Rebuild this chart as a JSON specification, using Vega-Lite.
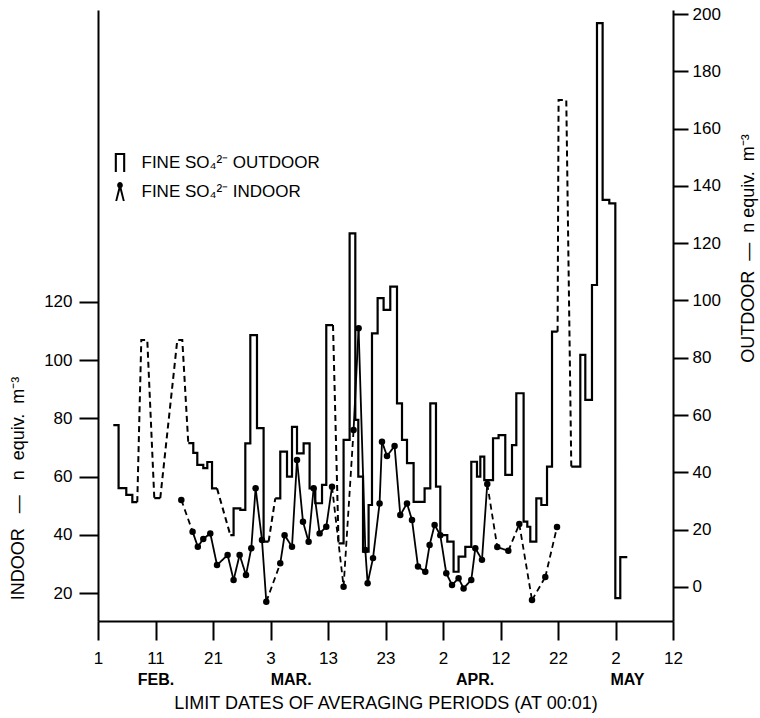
{
  "$schema": "https://vega.github.io/schema/vega-lite/v6.json",
  "autosize": {"type": "none"},
  "width": 575,
  "height": 611,
  "padding": {"left": 98, "top": 10, "right": 87, "bottom": 97},
  "background": "white",
  "config": {
    "view": {"stroke": null},
    "font": "Liberation Sans",
    "axis": {
      "domainColor": "black", "tickColor": "black", "labelColor": "black", "titleColor": "black",
      "grid": false, "domainWidth": 2, "tickWidth": 2,
      "labelFont": "Liberation Sans", "titleFont": "Liberation Sans",
      "labelFontSize": 17, "titleFontSize": 18, "titleFontWeight": "normal"
    }
  },
  "datasets": {
    "outSteps": [
      {"seg": "s1", "t": 2.66, "v": 56.5}, {"seg": "s1", "t": 3.58, "v": 34.5}, {"seg": "s1", "t": 4.92, "v": 32.1}, {"seg": "s1", "t": 5.97, "v": 29.6}, {"seg": "s1", "t": 6.83, "v": 29.6},
      {"seg": "s2", "t": 9.79, "v": 31.0}, {"seg": "s2", "t": 10.83, "v": 31.0},
      {"seg": "s3", "t": 15.70, "v": 50.2}, {"seg": "s3", "t": 16.57, "v": 46.8}, {"seg": "s3", "t": 17.27, "v": 42.6}, {"seg": "s3", "t": 18.31, "v": 41.5}, {"seg": "s3", "t": 19.01, "v": 43.6}, {"seg": "s3", "t": 19.83, "v": 34.4}, {"seg": "s3", "t": 20.70, "v": 34.4},
      {"seg": "s4", "t": 23.01, "v": 18.1}, {"seg": "s4", "t": 23.58, "v": 27.4}, {"seg": "s4", "t": 24.75, "v": 26.9}, {"seg": "s4", "t": 25.62, "v": 50.1}, {"seg": "s4", "t": 26.49, "v": 87.9}, {"seg": "s4", "t": 27.65, "v": 55.4}, {"seg": "s4", "t": 28.80, "v": 15.8}, {"seg": "s4", "t": 29.67, "v": 15.8},
      {"seg": "s5", "t": 30.83, "v": 30.9}, {"seg": "s5", "t": 31.70, "v": 47.2}, {"seg": "s5", "t": 32.87, "v": 38.5}, {"seg": "s5", "t": 33.74, "v": 55.9}, {"seg": "s5", "t": 34.61, "v": 46.6}, {"seg": "s5", "t": 35.76, "v": 50.1}, {"seg": "s5", "t": 36.80, "v": 34.4}, {"seg": "s5", "t": 37.79, "v": 29.2}, {"seg": "s5", "t": 38.96, "v": 35.6}, {"seg": "s5", "t": 39.70, "v": 91.4}, {"seg": "s5", "t": 40.87, "v": 91.4},
      {"seg": "s6", "t": 41.84, "v": 15.2}, {"seg": "s6", "t": 42.71, "v": 51.3}, {"seg": "s6", "t": 43.76, "v": 123.4}, {"seg": "s6", "t": 44.75, "v": 58.3}, {"seg": "s6", "t": 45.27, "v": 38.5}, {"seg": "s6", "t": 46.09, "v": 12.3}, {"seg": "s6", "t": 47.06, "v": 28.6}, {"seg": "s6", "t": 47.65, "v": 88.5}, {"seg": "s6", "t": 48.63, "v": 100.8}, {"seg": "s6", "t": 49.67, "v": 96.7}, {"seg": "s6", "t": 50.83, "v": 104.8}, {"seg": "s6", "t": 52.0, "v": 64.1}, {"seg": "s6", "t": 52.87, "v": 51.3}, {"seg": "s6", "t": 53.74, "v": 43.2}, {"seg": "s6", "t": 54.89, "v": 29.7}, {"seg": "s6", "t": 56.80, "v": 34.4}, {"seg": "s6", "t": 57.79, "v": 64.1}, {"seg": "s6", "t": 58.78, "v": 35.0}, {"seg": "s6", "t": 59.53, "v": 18.1}, {"seg": "s6", "t": 60.75, "v": 15.8}, {"seg": "s6", "t": 61.84, "v": 5.3}, {"seg": "s6", "t": 62.71, "v": 10.6}, {"seg": "s6", "t": 63.88, "v": 14.0}, {"seg": "s6", "t": 64.92, "v": 43.7}, {"seg": "s6", "t": 65.91, "v": 38.5}, {"seg": "s6", "t": 66.49, "v": 45.5}, {"seg": "s6", "t": 67.18, "v": 37.3}, {"seg": "s6", "t": 68.70, "v": 51.9}, {"seg": "s6", "t": 69.67, "v": 53.0}, {"seg": "s6", "t": 70.83, "v": 39.1}, {"seg": "s6", "t": 72.0, "v": 49.5}, {"seg": "s6", "t": 72.75, "v": 67.6}, {"seg": "s6", "t": 74.02, "v": 22.8}, {"seg": "s6", "t": 74.66, "v": 21.0}, {"seg": "s6", "t": 75.18, "v": 15.8}, {"seg": "s6", "t": 76.23, "v": 30.9}, {"seg": "s6", "t": 77.10, "v": 28.6}, {"seg": "s6", "t": 78.09, "v": 42.0}, {"seg": "s6", "t": 78.96, "v": 89.1}, {"seg": "s6", "t": 79.93, "v": 89.1},
      {"seg": "s7", "t": 82.31, "v": 42.0}, {"seg": "s7", "t": 83.88, "v": 81.0}, {"seg": "s7", "t": 84.75, "v": 65.3}, {"seg": "s7", "t": 85.91, "v": 105.4}, {"seg": "s7", "t": 86.78, "v": 196.8}, {"seg": "s7", "t": 87.76, "v": 135.1}, {"seg": "s7", "t": 88.92, "v": 133.9}, {"seg": "s7", "t": 89.97, "v": -3.9}, {"seg": "s7", "t": 90.83, "v": 10.4}, {"seg": "s7", "t": 92.05, "v": 10.4}
    ],
    "outGaps": [
      {"seg": "d1", "t": 6.83, "v": 29.6}, {"seg": "d1", "t": 7.53, "v": 86.2}, {"seg": "d1", "t": 8.57, "v": 86.2}, {"seg": "d1", "t": 9.79, "v": 31.0},
      {"seg": "d2", "t": 10.83, "v": 31.0}, {"seg": "d2", "t": 13.79, "v": 86.2}, {"seg": "d2", "t": 14.66, "v": 86.2}, {"seg": "d2", "t": 15.70, "v": 50.2},
      {"seg": "d3", "t": 20.70, "v": 34.4}, {"seg": "d3", "t": 23.01, "v": 18.1},
      {"seg": "d4", "t": 29.67, "v": 15.8}, {"seg": "d4", "t": 30.83, "v": 30.9},
      {"seg": "d5", "t": 40.87, "v": 91.4}, {"seg": "d5", "t": 41.84, "v": 15.2},
      {"seg": "d6", "t": 79.93, "v": 89.1}, {"seg": "d6", "t": 80.10, "v": 170.0}, {"seg": "d6", "t": 81.44, "v": 170.0}, {"seg": "d6", "t": 82.31, "v": 42.0}
    ],
    "indoor": [
      {"t": 14.49, "v": 52.0, "link": "dashed"}, {"t": 16.45, "v": 41.1, "link": "solid"}, {"t": 17.36, "v": 35.9, "link": "solid"}, {"t": 18.31, "v": 38.6, "link": "solid"}, {"t": 19.53, "v": 40.5, "link": "solid"},
      {"t": 20.70, "v": 29.6, "link": "solid"}, {"t": 22.54, "v": 33.1, "link": "solid"}, {"t": 23.58, "v": 24.5, "link": "solid"}, {"t": 24.63, "v": 33.1, "link": "solid"}, {"t": 25.74, "v": 26.2, "link": "solid"},
      {"t": 26.66, "v": 35.4, "link": "solid"}, {"t": 27.41, "v": 56.0, "link": "solid"}, {"t": 28.52, "v": 38.2, "link": "solid"}, {"t": 29.27, "v": 17.0, "link": "dashed"}, {"t": 31.70, "v": 30.2, "link": "solid"},
      {"t": 32.45, "v": 39.9, "link": "solid"}, {"t": 33.74, "v": 35.9, "link": "solid"}, {"t": 34.61, "v": 65.7, "link": "solid"}, {"t": 35.65, "v": 44.5, "link": "solid"}, {"t": 36.63, "v": 37.6, "link": "solid"},
      {"t": 37.50, "v": 56.0, "link": "solid"}, {"t": 38.54, "v": 40.5, "link": "solid"}, {"t": 39.70, "v": 42.8, "link": "solid"}, {"t": 40.70, "v": 56.5, "link": "dashed"}, {"t": 42.71, "v": 22.2, "link": "dashed"},
      {"t": 44.45, "v": 76.0, "link": "solid"}, {"t": 45.32, "v": 111.0, "link": "solid"}, {"t": 46.49, "v": 34.8, "link": "solid"}, {"t": 46.89, "v": 23.4, "link": "solid"}, {"t": 47.83, "v": 32.0, "link": "solid"},
      {"t": 48.97, "v": 50.8, "link": "solid"}, {"t": 49.39, "v": 72.0, "link": "solid"}, {"t": 50.26, "v": 67.1, "link": "solid"}, {"t": 51.58, "v": 70.5, "link": "solid"}, {"t": 52.57, "v": 46.8, "link": "solid"},
      {"t": 53.74, "v": 50.8, "link": "solid"}, {"t": 54.61, "v": 45.1, "link": "solid"}, {"t": 55.65, "v": 29.1, "link": "solid"}, {"t": 56.92, "v": 27.3, "link": "solid"}, {"t": 57.67, "v": 36.5, "link": "solid"},
      {"t": 58.54, "v": 43.4, "link": "solid"}, {"t": 59.53, "v": 39.9, "link": "solid"}, {"t": 60.57, "v": 26.8, "link": "solid"}, {"t": 61.57, "v": 22.8, "link": "solid"}, {"t": 62.71, "v": 25.1, "link": "solid"},
      {"t": 63.58, "v": 21.6, "link": "solid"}, {"t": 64.92, "v": 24.5, "link": "solid"}, {"t": 65.62, "v": 35.4, "link": "solid"}, {"t": 66.78, "v": 31.4, "link": "solid"}, {"t": 67.70, "v": 57.5, "link": "dashed"},
      {"t": 69.44, "v": 35.8, "link": "solid"}, {"t": 71.36, "v": 34.5, "link": "dashed"}, {"t": 73.27, "v": 43.7, "link": "dashed"}, {"t": 75.48, "v": 17.6, "link": "dashed"}, {"t": 77.79, "v": 25.5, "link": "dashed"},
      {"t": 79.83, "v": 42.7, "link": "none"}
    ],
    "legendRows": [
      {"lab": "FINE SO₄²⁻ OUTDOOR"},
      {"lab": "FINE SO₄²⁻ INDOOR"}
    ]
  },
  "resolve": {"scale": {"y": "independent"}, "axis": {"x": "independent", "y": "independent"}},
  "layer": [
    {
      "layer": [
        {
          "data": {"name": "outSteps"},
          "mark": {"type": "line", "interpolate": "step-after", "color": "black", "strokeWidth": 2.2},
          "encoding": {
            "x": {"field": "t", "type": "quantitative", "scale": {"domain": [0, 100], "nice": false, "zero": false},
              "axis": {"orient": "bottom", "values": [0, 10, 20, 30, 40, 50, 60, 70, 80, 90, 100],
                "labelExpr": "['1','11','21','3','13','23','2','12','22','2','12'][round(datum.value/10)]",
                "tickSize": 19, "labelPadding": 10, "title": null, "labelFlush": false, "labelOverlap": false}},
            "y": {"field": "v", "type": "quantitative", "scale": {"domain": [-11.9, 201.4], "nice": false, "zero": false},
              "axis": {"orient": "right", "values": [0, 20, 40, 60, 80, 100, 120, 140, 160, 180, 200],
                "tickSize": 15, "labelPadding": 4, "labelFlush": false, "labelOverlap": false,
                "title": "OUTDOOR\u00a0\u00a0—\u00a0\u00a0n\u00a0equiv.\u00a0\u00a0m⁻³",
                "titleAngle": 270, "titleX": 75, "titleY": 238, "titleAlign": "center", "titleBaseline": "middle"}},
            "detail": {"field": "seg", "type": "nominal"}
          }
        },
        {
          "data": {"name": "outGaps"},
          "mark": {"type": "line", "color": "black", "strokeWidth": 2, "strokeDash": [6, 4]},
          "encoding": {
            "x": {"field": "t", "type": "quantitative", "scale": {"domain": [0, 100], "nice": false, "zero": false}},
            "y": {"field": "v", "type": "quantitative", "scale": {"domain": [-11.9, 201.4], "nice": false, "zero": false}},
            "detail": {"field": "seg", "type": "nominal"}
          }
        }
      ]
    },
    {
      "layer": [
        {
          "data": {"name": "indoor"},
          "transform": [
            {"window": [{"op": "lead", "field": "t", "as": "t2"}, {"op": "lead", "field": "v", "as": "v2"}], "sort": [{"field": "t"}]},
            {"filter": "isValid(datum.t2)"}
          ],
          "mark": {"type": "rule", "color": "black", "strokeWidth": 1.8},
          "encoding": {
            "x": {"field": "t", "type": "quantitative", "scale": {"domain": [0, 100], "nice": false, "zero": false},
              "axis": {"orient": "bottom", "values": [10, 33.5, 65.5, 92],
                "labelExpr": "datum.value == 10 ? 'FEB.' : datum.value == 33.5 ? 'MAR.' : datum.value == 65.5 ? 'APR.' : 'MAY'",
                "domain": false, "ticks": false, "labelPadding": 50, "labelFontSize": 16, "labelFontWeight": "bold",
                "labelFlush": false, "labelOverlap": false,
                "title": "LIMIT DATES OF AVERAGING PERIODS (AT 00:01)", "titlePadding": 7, "titleFontSize": 18}},
            "x2": {"field": "t2"},
            "y": {"field": "v", "type": "quantitative", "scale": {"domain": [10.4, 220.3], "nice": false, "zero": false},
              "axis": {"orient": "left", "values": [20, 40, 60, 80, 100, 120], "tickSize": 19, "labelPadding": 7,
                "labelFlush": false, "labelOverlap": false,
                "title": "INDOOR\u00a0\u00a0\u00a0—\u00a0\u00a0\u00a0n\u00a0\u00a0equiv.\u00a0\u00a0m⁻³",
                "titleAngle": 270, "titleX": -80, "titleY": 478, "titleAlign": "center", "titleBaseline": "middle"}},
            "y2": {"field": "v2"},
            "strokeDash": {"field": "link", "type": "nominal", "scale": {"domain": ["solid", "dashed"], "range": [[1, 0], [6, 4]]}, "legend": null}
          }
        },
        {
          "data": {"name": "indoor"},
          "mark": {"type": "circle", "color": "black", "size": 42, "opacity": 1},
          "encoding": {
            "x": {"field": "t", "type": "quantitative", "scale": {"domain": [0, 100], "nice": false, "zero": false}},
            "y": {"field": "v", "type": "quantitative", "scale": {"domain": [10.4, 220.3], "nice": false, "zero": false}}
          }
        },
        {
          "data": {"name": "legendRows"},
          "mark": {"type": "point", "filled": true, "color": "black", "opacity": 0},
          "encoding": {
            "shape": {"field": "lab", "type": "nominal",
              "scale": {"domain": ["FINE SO₄²⁻ OUTDOOR", "FINE SO₄²⁻ INDOOR"],
                "range": ["M-0.55,1 L-0.55,-1 L0.55,-1 L0.55,1 L0.33,1 L0.33,-0.78 L-0.33,-0.78 L-0.33,1 Z",
                          "M-0.5,1 L-0.12,-0.55 L0.12,-0.55 L0.5,1 L0.3,1 L0,-0.15 L-0.3,1 Z M0,-1 A0.3,0.34 0 1,1 0,-0.32 A0.3,0.34 0 1,1 0,-1 Z"]},
              "legend": {"title": null, "orient": "none", "legendX": 12.5, "legendY": 143, "padding": 0,
                "symbolSize": 361, "symbolFillColor": "black", "symbolStrokeColor": "black", "symbolStrokeWidth": 0,
                "symbolOpacity": 1, "labelFontSize": 17, "labelFont": "Liberation Sans", "labelColor": "black",
                "labelOffset": 12, "rowPadding": 10, "labelLimit": 400,
                "encode": {"symbols": {"update": {"opacity": {"value": 1}, "fill": {"value": "black"}, "strokeWidth": {"value": 0}}}}}}
          }
        }
      ]
    }
  ]
}
